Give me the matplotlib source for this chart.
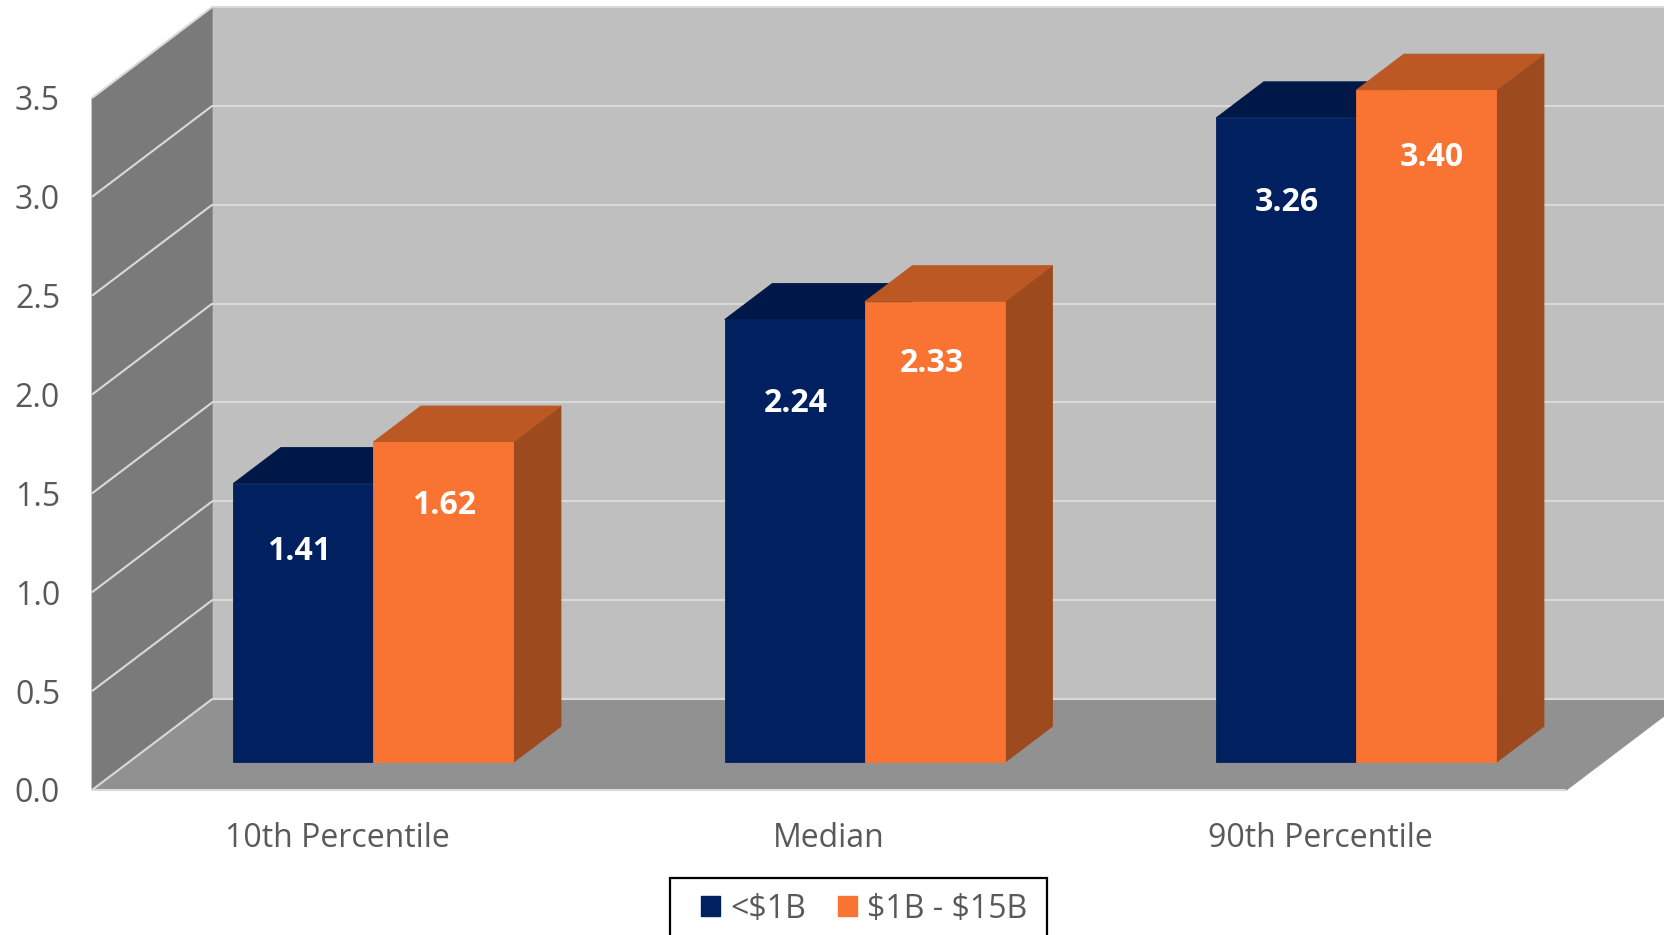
import numpy as np
import matplotlib
matplotlib.use('Agg')
import matplotlib.pyplot as plt
from matplotlib.patches import Patch, Rectangle

plt.rcParams['font.family'] = ['Open Sans', 'DejaVu Sans']

# Data
categories = ['10th Percentile', 'Median', '90th Percentile']
series_names = [r'<\$1B', r'\$1B - \$15B']
small_values = [1.41, 2.24, 3.26]
large_values = [1.62, 2.33, 3.40]
y_ticks = [0.0, 0.5, 1.0, 1.5, 2.0, 2.5, 3.0, 3.5]

# how far each data label sits from the top of its bar (pixels), and sideways
small_label_drop = [68, 84, 85]
large_label_drop = [63, 62, 67]
small_label_shift = [-4, 1, 1]
large_label_shift = [1, -3, 5]

# Colours
navy = '#002060'
navy_top = '#001848'
orange = '#F97432'
orange_top = '#BB5824'
orange_side = '#9C4A1E'
wall_color = '#7A7A7A'
back_color = '#BFBFBF'
floor_color = '#919191'
grid_color = '#D9D9D9'
text_color = '#595959'

W, H = 1665, 935
fig = plt.figure(figsize=(W / 100, H / 100), dpi=100)
ax = fig.add_axes([92 / W, (H - 790) / H, (1566.5 - 92) / W, 692 / H])
ax.set_xlim(-0.5, 2.5)
ax.set_ylim(0, 3.5)

# Depth direction of the fake 3D box, in data units
depth_x = 0.2445
depth_y = 0.46
bar_width = 0.285
bar_z0 = 0.304
bar_z1 = 0.70


def project(x, y, z):
    return x + z * depth_x, y + z * depth_y


def face(corners, color, zorder):
    pts = [project(*c) for c in corners]
    xs = [p[0] for p in pts]
    ys = [p[1] for p in pts]
    ax.fill(xs, ys, color=color, lw=0.6, zorder=zorder, clip_on=False)


def line(start, end, zorder=2, lw=1.5):
    p0 = project(*start)
    p1 = project(*end)
    ax.plot([p0[0], p1[0]], [p0[1], p1[1]], color=grid_color, lw=lw,
            zorder=zorder, clip_on=False, solid_capstyle='butt')


def draw_bar(left, value, front, top, side, zorder):
    right = left + bar_width
    # side and top first, front goes on top of them
    face([(right, 0, bar_z0), (right, 0, bar_z1), (right, value, bar_z1), (right, value, bar_z0)],
         side, zorder)
    face([(left, value, bar_z0), (right, value, bar_z0), (right, value, bar_z1), (left, value, bar_z1)],
         top, zorder)
    face([(left, 0, bar_z0), (right, 0, bar_z0), (right, value, bar_z0), (left, value, bar_z0)],
         front, zorder + 0.1)


# Box walls
x_lo, x_hi = -0.5, 2.5
y_top = y_ticks[-1]
face([(x_lo, 0, 1), (x_hi, 0, 1), (x_hi, y_top, 1), (x_lo, y_top, 1)], back_color, 1)
face([(x_lo, 0, 0), (x_lo, 0, 1), (x_lo, y_top, 1), (x_lo, y_top, 0)], wall_color, 1)
face([(x_lo, 0, 0), (x_hi, 0, 0), (x_hi, 0, 1), (x_lo, 0, 1)], floor_color, 1)

# Gridlines bend round the left wall
for tick in y_ticks:
    line((x_lo, tick, 0), (x_lo, tick, 1))
    line((x_lo, tick, 1), (x_hi, tick, 1))
line((x_lo, 0, 0), (x_hi, 0, 0))

# Bars
for i in range(len(categories)):
    left = i - 0.287
    draw_bar(left, small_values[i], navy, navy_top, navy_top, 3)
    draw_bar(left + bar_width, large_values[i], orange, orange_top, orange_side, 4)

    bx, by = project(left + bar_width / 2, small_values[i], bar_z0)
    ax.annotate(f'{small_values[i]:.2f}', (bx, by),
                xytext=(small_label_shift[i], -small_label_drop[i]),
                textcoords='offset pixels', ha='center', va='center',
                color='white', fontsize=23, fontweight='bold', zorder=6,
                annotation_clip=False)
    bx, by = project(left + bar_width * 1.5, large_values[i], bar_z0)
    ax.annotate(f'{large_values[i]:.2f}', (bx, by),
                xytext=(large_label_shift[i], -large_label_drop[i]),
                textcoords='offset pixels', ha='center', va='center',
                color='white', fontsize=23, fontweight='bold', zorder=6,
                annotation_clip=False)

# Axes
for spine in ax.spines.values():
    spine.set_visible(False)
ax.patch.set_visible(False)
ax.set_xticks(range(len(categories)))
ax.set_xticklabels(categories)
ax.set_yticks(y_ticks)
ax.set_yticklabels([f'{t:.1f}' for t in y_ticks])
ax.tick_params(axis='x', length=0, pad=23, labelsize=23, labelcolor=text_color)
ax.tick_params(axis='y', length=0, pad=23, labelsize=23, labelcolor=text_color)

# Legend frame is drawn apart since its lower edge runs off the figure
fig.add_artist(Rectangle((670 / W, (H - 950) / H), 377 / W, 72 / H, transform=fig.transFigure,
                         facecolor='white', edgecolor='black', lw=1.6))
handles = [Patch(color=navy, label=series_names[0]), Patch(color=orange, label=series_names[1])]
leg = fig.legend(handles=handles, loc='center', bbox_to_anchor=(864 / W, (H - 909) / H),
                 ncol=2, frameon=False, fontsize=23, labelcolor=text_color,
                 handlelength=0.6, handleheight=0.6, handletextpad=0.3, columnspacing=1.0,
                 borderpad=0, borderaxespad=0)
leg.set_zorder(5)

fig.savefig('out.png', dpi=100)
